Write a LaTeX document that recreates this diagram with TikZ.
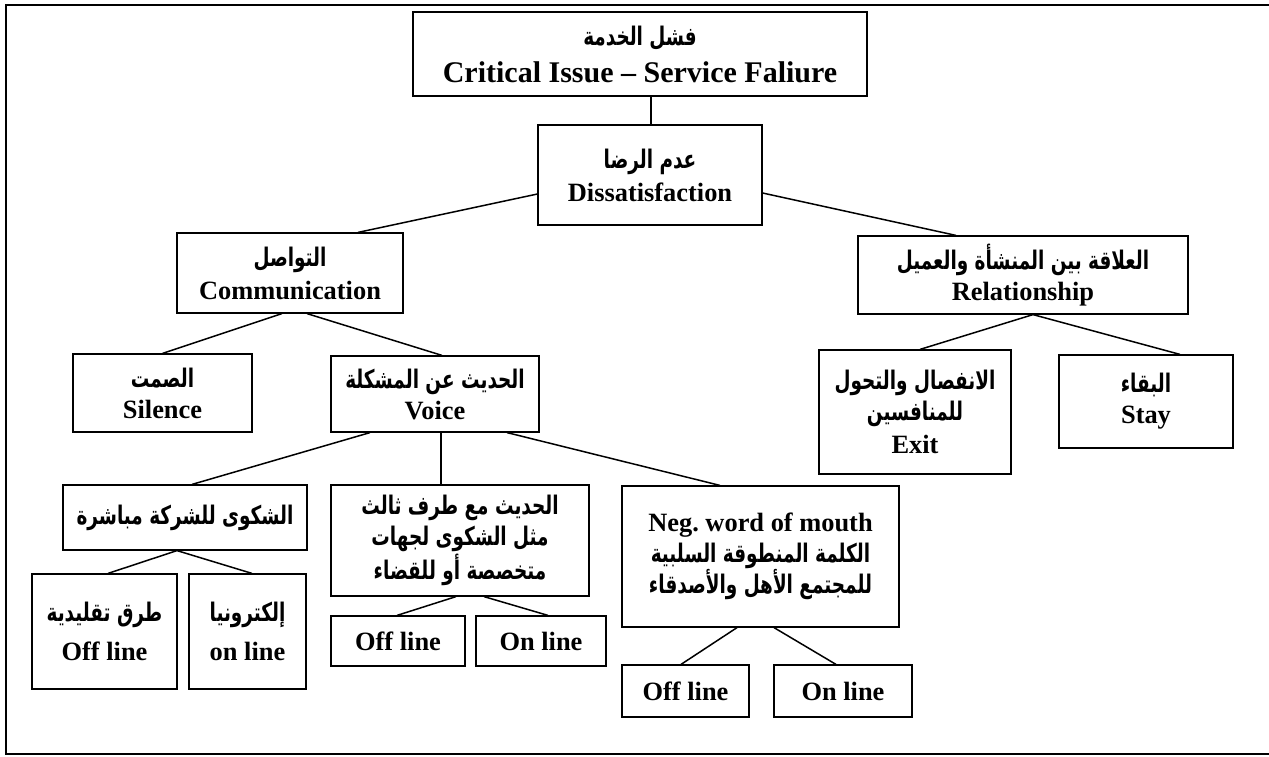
\documentclass[tikz,border=0pt]{standalone}
\usepackage{fontspec}
\setmainfont{Liberation Serif}
\newfontfamily\arabicfont[Script=Arabic,FakeStretch=0.72]{DejaVu Sans Bold}
\TeXXeTstate=1
\frenchspacing
\usetikzlibrary{calc}
\newcommand\artxt[1]{{\arabicfont\fontsize{12.8}{15}\selectfont\beginR #1\endR}}
\begin{document}
\begin{tikzpicture}[x=0.5pt,y=-0.5pt,
  box/.style={draw, line width=0.6pt, inner sep=0pt, align=center,
    font=\bfseries\fontsize{13.2}{15.5}\selectfont},
  link/.style={line width=0.75pt}]
\useasboundingbox (0,0) rectangle (1269,756);
\clip (0,0) rectangle (1269,756);
\draw[line width=1pt] (6,5) rectangle (1280,754);
\newcommand\bx[6]{\node[box, minimum width={(#4-#2)*0.5pt}, minimum height={(#5-#3)*0.5pt}] (#1) at ({(#2+#4)/2},{(#3+#5)/2}) {#6};}
\bx{top}{413}{12}{867}{96}{\artxt{فشل الخدمة}\\[3pt]{\fontsize{15}{17}\selectfont Critical Issue – Service Faliure}}
\bx{dis}{538}{125}{762}{225}{\artxt{عدم الرضا}\\[1pt]Dissatisfaction}
\bx{com}{177}{233}{403}{313}{\artxt{التواصل}\\[1pt]Communication}
\bx{rel}{858}{236}{1188}{314}{\artxt{العلاقة بين المنشأة والعميل}\\Relationship}
\bx{sil}{73}{354}{252}{432}{\artxt{الصمت}\\Silence}
\bx{voi}{331}{356}{539}{432}{\artxt{الحديث عن المشكلة}\\Voice}
\bx{exi}{819}{350}{1011}{474}{\artxt{الانفصال والتحول}\\\artxt{للمنافسين}\\[1pt]Exit}
\bx{sta}{1059}{355}{1233}{448}{\artxt{البقاء}\\Stay}
\bx{cmp}{63}{485}{307}{550}{\artxt{الشكوى للشركة مباشرة}}
\bx{thp}{331}{485}{589}{596}{\artxt{الحديث مع طرف ثالث}\\\artxt{مثل الشكوى لجهات}\\\artxt{متخصصة أو للقضاء}}
\bx{neg}{622}{486}{899}{627}{Neg. word of mouth\\\artxt{الكلمة المنطوقة السلبية}\\\artxt{للمجتمع الأهل والأصدقاء}}
\bx{of1}{32}{574}{177}{689}{\artxt{طرق تقليدية}\\[4pt]Off line}
\bx{on1}{189}{574}{306}{689}{\artxt{إلكترونيا}\\[4pt]on line}
\bx{of2}{331}{616}{465}{666}{Off line}
\bx{on2}{476}{616}{606}{666}{On line}
\bx{of3}{622}{665}{749}{717}{Off line}
\bx{on3}{774}{665}{912}{717}{On line}
\draw[link] ($(top.south)+(11,0)$) -- ($(dis.north)+(1,0)$);
\draw[link] ($(dis.west)+(0,19)$) -- ($(com.north)+(68,0)$);
\draw[link] ($(dis.east)+(0,18)$) -- ($(rel.north)+(-67,0)$);
\draw[link] ($(com.south)+(-8,0)$) -- (sil.north);
\draw[link] ($(com.south)+(17,0)$) -- ($(voi.north)+(7,0)$);
\draw[link] ($(rel.south)+(10,0)$) -- ($(exi.north)+(5,0)$);
\draw[link] ($(rel.south)+(10,0)$) -- ($(sta.north)+(34,0)$);
\draw[link] ($(voi.south)+(-65,0)$) -- ($(cmp.north)+(7,0)$);
\draw[link] ($(voi.south)+(6,0)$) -- ($(thp.north)+(-19,0)$);
\draw[link] ($(voi.south)+(72,0)$) -- ($(neg.north)+(-40.5,0)$);
\draw[link] ($(cmp.south)+(-8,0)$) -- ($(of1.north)+(3.5,0)$);
\draw[link] ($(cmp.south)+(-8,0)$) -- ($(on1.north)+(4.5,0)$);
\draw[link] ($(thp.south)+(-4,0)$) -- ($(of2.north)+(-1,0)$);
\draw[link] ($(thp.south)+(24,0)$) -- ($(on2.north)+(7,0)$);
\draw[link] ($(neg.south)+(-23.5,0)$) -- ($(of3.north)+(-4.5,0)$);
\draw[link] ($(neg.south)+(13.5,0)$) -- ($(on3.north)+(-7,0)$);
\end{tikzpicture}
\end{document}
